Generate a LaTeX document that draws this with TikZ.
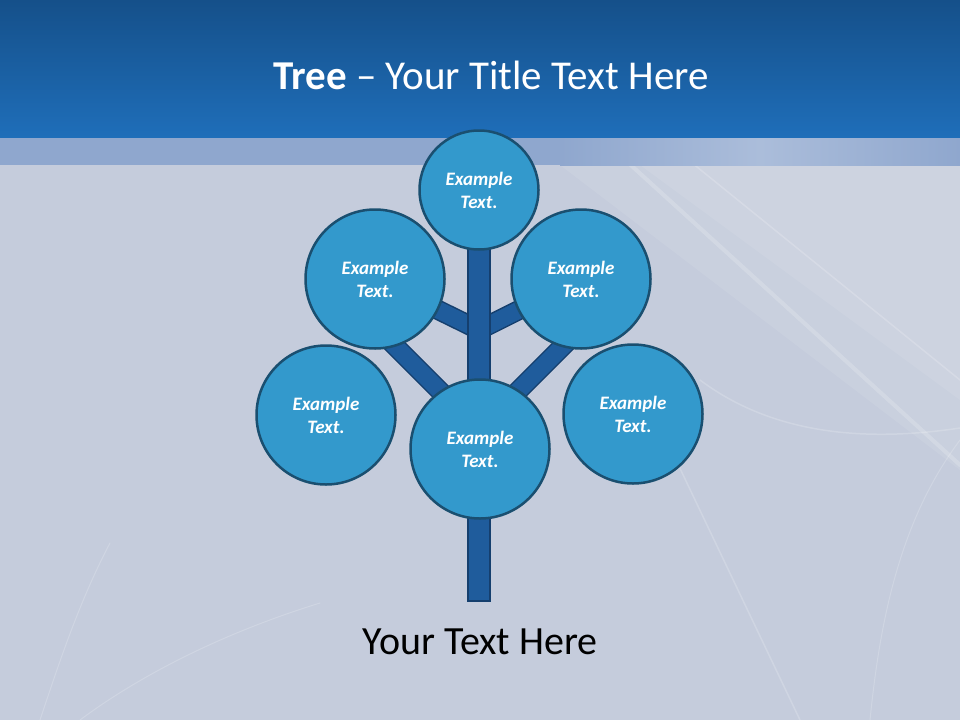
\documentclass[tikz,border=0pt]{standalone}
\usepackage{fontspec}
\setmainfont{Carlito}
\usepackage{xcolor}
\usetikzlibrary{positioning}

\definecolor{headtop}{HTML}{15508A}
\definecolor{headbot}{HTML}{1F6EB9}
\definecolor{stripe}{HTML}{8FA7CE}
\definecolor{paper}{HTML}{C5CCDC}
\definecolor{leafblue}{HTML}{3399CC}
\definecolor{leafedge}{HTML}{1A4F70}
\definecolor{limbblue}{HTML}{1F5C9C}
\definecolor{limbedge}{HTML}{153F6E}

\pgfdeclarelayer{back}
\pgfdeclarelayer{limbs}
\pgfsetlayers{back,limbs,main}

\begin{document}
\begin{tikzpicture}[x=1pt,y=-1pt,
                     leaf/.style={circle,
                         fill=leafblue,
                         draw=leafedge,
                         line width=2.5pt,
                         minimum size=139pt,
                         inner sep=0pt,
                         text=white,
                         align=center,
                         font=\fontsize{19}{23}\selectfont\bfseries\itshape},
                     limb/.style={draw=limbedge,
                         line width=1.5pt,
                         double=limbblue,
                         double distance=17pt},
                     trunk/.style={fill=limbblue,
                         draw=limbedge,
                         line width=1.5pt},
                     streak/.style={white,
                         opacity=0.18,
                         line cap=round}]
    \useasboundingbox (0,0) rectangle (960,720);
    % slide background
    \begin{pgfonlayer}{back}
        \fill[paper] (0,0) rectangle (960,720);
        \fill[white, opacity=0.08] (560,165) -- (960,165) -- (960,470) -- cycle;
        \fill[white, opacity=0.08] (640,165) -- (960,165) -- (960,400) -- cycle;
        \draw[streak, line width=4pt] (600,137) -- (960,465);
        \draw[streak, line width=1.5pt] (660,137) -- (960,380);
        \draw[streak, line width=1.5pt] (700,380) .. controls (780,440) and (880,440) .. (960,428);
        \draw[streak, line width=1.5pt] (665,437) -- (800,720);
        \draw[streak, line width=1pt] (960,440) .. controls (900,520) and (880,620) .. (870,720);
        \draw[streak, line width=1pt] (110,543) .. controls (80,600) and (60,660) .. (40,720);
        \draw[streak, line width=1pt] (320,603) .. controls (200,640) and (120,690) .. (80,720);
        \fill[stripe] (0,137) rectangle (560,165);
        \shade[left color=stripe, right color=stripe, middle color=stripe!75!white]
            (560,137) rectangle (960,165);
        \shade[top color=headtop, bottom color=headbot] (0,0) rectangle (960,137);
    \end{pgfonlayer}

    \node[font=\fontsize{41}{49}\selectfont, text=white] (title) at (491,75)
        {\textbf{Tree} \textendash{} Your Title Text Here};

    \node[leaf, minimum size=119pt] (crown) at (479,190) {Example\\Text.};
    \node[leaf] (upl) at (375,279) {Example\\Text.};
    \node[leaf] (upr) at (581,279) {Example\\Text.};
    \node[leaf] (lft) at (326,415) {Example\\Text.};
    \node[leaf] (rgt) at (633,414) {Example\\Text.};
    \node[leaf] (mid) at (480,449) {Example\\Text.};

    \coordinate (fork) at (479,330);
    \coordinate (knot) at (479,430);
    \coordinate (lstub) at (379,330);
    \coordinate (rstub) at (579,330);
    \coordinate (root) at (479,601);

    \begin{pgfonlayer}{limbs}
        \foreach \u / \v in {fork/upl, fork/upr, knot/lstub, knot/rstub}
            \draw[limb] (\u) -- (\v.center);
        \draw[trunk] ([xshift=-11pt]crown.center) rectangle ([xshift=11pt]root);
    \end{pgfonlayer}

    \node[font=\fontsize{40}{48}\selectfont] (caption) at (480,642) {Your Text Here};
\end{tikzpicture}
\end{document}
